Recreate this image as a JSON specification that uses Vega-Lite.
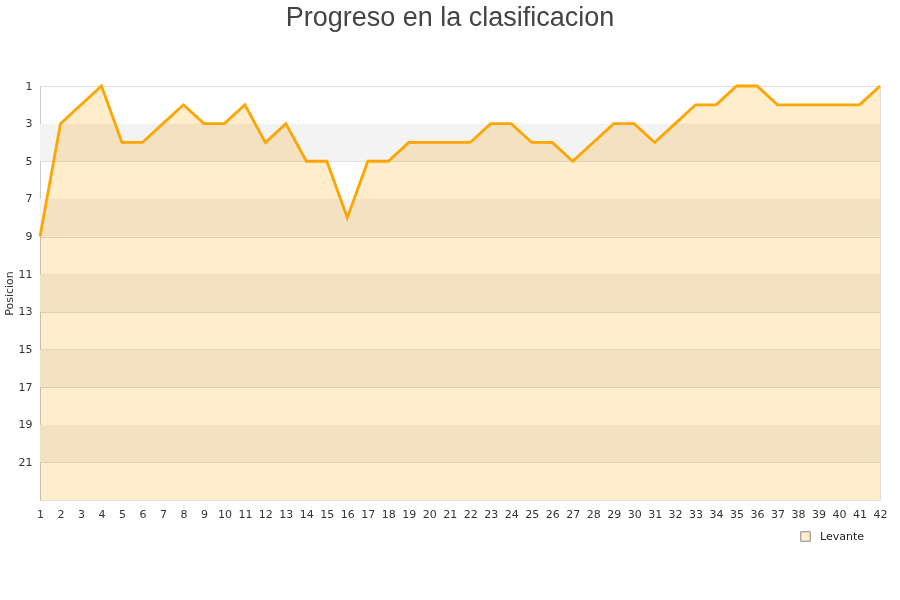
{
  "$schema": "https://vega.github.io/schema/vega-lite/v6.json",
  "autosize": "none",
  "width": 840,
  "height": 414,
  "padding": {"left": 40, "top": 86, "right": 20, "bottom": 100},
  "background": "white",
  "title": {
    "text": "Progreso en la clasificacion",
    "font": "Liberation Sans",
    "fontSize": 27,
    "fontWeight": "normal",
    "color": "#444444",
    "anchor": "middle",
    "baseline": "alphabetic",
    "offset": 27,
    "dx": -10
  },
  "config": {
    "view": {"stroke": "#dddddd"},
    "axis": {
      "labelFont": "DejaVu Sans",
      "labelFontSize": 11,
      "labelColor": "#333333",
      "titleFont": "DejaVu Sans",
      "titleFontSize": 11,
      "titleFontWeight": "normal",
      "titleColor": "#333333",
      "domainColor": "#cccccc",
      "tickSize": 0
    },
    "legend": {"labelFont": "DejaVu Sans", "labelFontSize": 11, "labelColor": "#222222"}
  },
  "datasets": {
    "bands": [
      {"desde": 3, "hasta": 5},
      {"desde": 7, "hasta": 9},
      {"desde": 11, "hasta": 13},
      {"desde": 15, "hasta": 17},
      {"desde": 19, "hasta": 21}
    ],
    "progreso": [
      {"jornada": 1, "posicion": 9, "equipo": "Levante"},
      {"jornada": 2, "posicion": 3, "equipo": "Levante"},
      {"jornada": 3, "posicion": 2, "equipo": "Levante"},
      {"jornada": 4, "posicion": 1, "equipo": "Levante"},
      {"jornada": 5, "posicion": 4, "equipo": "Levante"},
      {"jornada": 6, "posicion": 4, "equipo": "Levante"},
      {"jornada": 7, "posicion": 3, "equipo": "Levante"},
      {"jornada": 8, "posicion": 2, "equipo": "Levante"},
      {"jornada": 9, "posicion": 3, "equipo": "Levante"},
      {"jornada": 10, "posicion": 3, "equipo": "Levante"},
      {"jornada": 11, "posicion": 2, "equipo": "Levante"},
      {"jornada": 12, "posicion": 4, "equipo": "Levante"},
      {"jornada": 13, "posicion": 3, "equipo": "Levante"},
      {"jornada": 14, "posicion": 5, "equipo": "Levante"},
      {"jornada": 15, "posicion": 5, "equipo": "Levante"},
      {"jornada": 16, "posicion": 8, "equipo": "Levante"},
      {"jornada": 17, "posicion": 5, "equipo": "Levante"},
      {"jornada": 18, "posicion": 5, "equipo": "Levante"},
      {"jornada": 19, "posicion": 4, "equipo": "Levante"},
      {"jornada": 20, "posicion": 4, "equipo": "Levante"},
      {"jornada": 21, "posicion": 4, "equipo": "Levante"},
      {"jornada": 22, "posicion": 4, "equipo": "Levante"},
      {"jornada": 23, "posicion": 3, "equipo": "Levante"},
      {"jornada": 24, "posicion": 3, "equipo": "Levante"},
      {"jornada": 25, "posicion": 4, "equipo": "Levante"},
      {"jornada": 26, "posicion": 4, "equipo": "Levante"},
      {"jornada": 27, "posicion": 5, "equipo": "Levante"},
      {"jornada": 28, "posicion": 4, "equipo": "Levante"},
      {"jornada": 29, "posicion": 3, "equipo": "Levante"},
      {"jornada": 30, "posicion": 3, "equipo": "Levante"},
      {"jornada": 31, "posicion": 4, "equipo": "Levante"},
      {"jornada": 32, "posicion": 3, "equipo": "Levante"},
      {"jornada": 33, "posicion": 2, "equipo": "Levante"},
      {"jornada": 34, "posicion": 2, "equipo": "Levante"},
      {"jornada": 35, "posicion": 1, "equipo": "Levante"},
      {"jornada": 36, "posicion": 1, "equipo": "Levante"},
      {"jornada": 37, "posicion": 2, "equipo": "Levante"},
      {"jornada": 38, "posicion": 2, "equipo": "Levante"},
      {"jornada": 39, "posicion": 2, "equipo": "Levante"},
      {"jornada": 40, "posicion": 2, "equipo": "Levante"},
      {"jornada": 41, "posicion": 2, "equipo": "Levante"},
      {"jornada": 42, "posicion": 1, "equipo": "Levante"}
    ]
  },
  "layer": [
    {
      "data": {"name": "bands"},
      "mark": {"type": "rect", "fill": "#f3f3f3"},
      "encoding": {
        "y": {"field": "desde", "type": "quantitative", "scale": {"domain": [1, 23], "reverse": true, "nice": false, "zero": false}},
        "y2": {"field": "hasta"}
      }
    },
    {
      "data": {"name": "progreso"},
      "mark": {"type": "area", "blend": "multiply", "interpolate": "linear"},
      "encoding": {
        "x": {
          "field": "jornada", "type": "ordinal",
          "scale": {"type": "point", "padding": 0},
          "axis": {"grid": false, "title": null, "labelPadding": 8, "labelAngle": 0, "labelOverlap": false, "domain": false, "ticks": false}
        },
        "y": {
          "field": "posicion", "type": "quantitative",
          "scale": {"domain": [1, 23], "reverse": true, "nice": false, "zero": false},
          "axis": {"values": [1,3,5,7,9,11,13,15,17,19,21], "title": "Posicion", "grid": true, "gridColor": "#dddddd", "labelPadding": 8, "titlePadding": 4, "labelFlush": false, "labelOverlap": false}
        },
        "y2": {"datum": 23},
        "fill": {
          "field": "equipo", "type": "nominal",
          "scale": {"range": ["#ffedcc"]},
          "legend": {
            "title": null, "orient": "none", "legendX": 760, "legendY": 445,
            "symbolType": "square", "symbolSize": 90, "symbolStrokeColor": "#888888", "symbolStrokeWidth": 1, "labelOffset": 9
          }
        }
      }
    },
    {
      "data": {"name": "progreso"},
      "mark": {"type": "line", "stroke": "#ffa500", "strokeWidth": 2.8, "interpolate": "linear"},
      "encoding": {
        "x": {"field": "jornada", "type": "ordinal"},
        "y": {"field": "posicion", "type": "quantitative"}
      }
    }
  ]
}
